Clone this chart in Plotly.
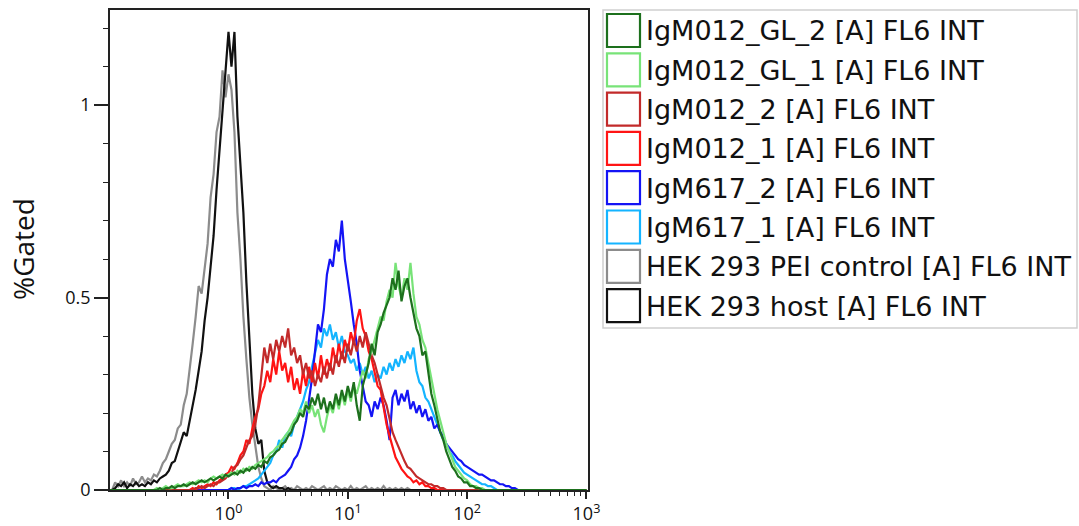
import numpy as np
import plotly.graph_objects as go

# ---- histogram channel grid (log10 of FL6 INT), 0.025 decade bins ----
bin_start_log = -1.0
bin_step_log = 0.025
n_bins = 161

# ---- %Gated values (each list starts at *_start) ----
host_start = -0.95
host = [0.005, 0.015, 0.01, 0.02, 0.005, 0.015, 0.01, 0.02, 0.01, 0.015, 0.01, 0.02, 0.015, 0.025,
        0.02, 0.03, 0.035, 0.04, 0.05, 0.07, 0.075, 0.10, 0.12, 0.15, 0.14, 0.18, 0.22, 0.26, 0.31,
        0.36, 0.44, 0.50, 0.58, 0.66, 0.78, 0.88, 0.98, 1.08, 1.19, 1.10, 1.19, 0.97, 0.84, 0.72,
        0.54, 0.40, 0.25, 0.16, 0.12, 0.13, 0.05, 0.02, 0.01, 0.005, 0.01, 0.005, 0.005, 0.0, 0.005]

pei_start = -0.95
pei = [0.02, 0.01, 0.025, 0.01, 0.02, 0.01, 0.03, 0.015, 0.02, 0.035, 0.02, 0.03, 0.025, 0.04,
       0.035, 0.05, 0.07, 0.08, 0.10, 0.12, 0.13, 0.16, 0.17, 0.22, 0.25, 0.31, 0.38, 0.45, 0.53,
       0.51, 0.58, 0.64, 0.76, 0.82, 0.93, 0.97, 1.09, 1.02, 1.08, 1.04, 0.93, 0.72, 0.60, 0.45,
       0.34, 0.24, 0.17, 0.11, 0.06, 0.03, 0.01,
       0.005, 0.0, 0.01, 0.005, 0.0, 0.005, 0.01, 0.0, 0.005, 0.0, 0.01, 0.005, 0.0, 0.005, 0.0,
       0.01, 0.005, 0.0, 0.005, 0.01, 0.0, 0.005, 0.0, 0.01, 0.005, 0.0, 0.005, 0.0, 0.01, 0.0,
       0.005, 0.0, 0.005, 0.01, 0.0, 0.005, 0.0, 0.005, 0.0, 0.01, 0.0, 0.005, 0.0, 0.005, 0.0,
       0.005, 0.0, 0.005]

igm617_1_start = 0.0
igm617_1 = [0.0, 0.005, 0.005, 0.0, 0.005, 0.01, 0.01, 0.015, 0.02, 0.025, 0.03, 0.04, 0.05,
            0.06, 0.07, 0.09, 0.10, 0.13, 0.11, 0.14, 0.15, 0.14, 0.17, 0.19, 0.21, 0.23, 0.26,
            0.28, 0.32, 0.36, 0.39, 0.37, 0.42, 0.40, 0.43, 0.39, 0.41, 0.37, 0.40, 0.36, 0.35,
            0.33, 0.34, 0.31, 0.33, 0.30, 0.32, 0.29, 0.31, 0.28, 0.30, 0.29, 0.32, 0.30, 0.33,
            0.31, 0.34, 0.32, 0.35, 0.33, 0.36, 0.34, 0.37, 0.31, 0.28, 0.27, 0.24, 0.23, 0.21,
            0.19, 0.17, 0.15, 0.13, 0.12, 0.10, 0.09, 0.075, 0.065, 0.055, 0.045, 0.04, 0.035,
            0.03, 0.025, 0.02, 0.015, 0.015, 0.01, 0.01, 0.005, 0.0]

igm617_2_start = 0.0
igm617_2 = [0.0, 0.005, 0.0, 0.005, 0.005, 0.01, 0.005, 0.01, 0.01, 0.015, 0.01, 0.02, 0.015,
            0.02, 0.02, 0.025, 0.02, 0.03, 0.035, 0.04, 0.05, 0.06, 0.08, 0.09, 0.11, 0.14, 0.18,
            0.23, 0.29, 0.36, 0.43, 0.41, 0.47, 0.56, 0.60, 0.58, 0.65, 0.62, 0.70, 0.60, 0.55,
            0.49, 0.43, 0.38, 0.31, 0.27, 0.23, 0.22, 0.19, 0.23, 0.21, 0.24, 0.22, 0.18, 0.13,
            0.24, 0.26, 0.22, 0.25, 0.23, 0.26, 0.21, 0.23, 0.20, 0.22, 0.19, 0.21, 0.18, 0.19,
            0.16, 0.17, 0.15, 0.14, 0.12, 0.11, 0.10, 0.09, 0.08, 0.075, 0.065, 0.06, 0.055, 0.05,
            0.045, 0.04, 0.04, 0.035, 0.03, 0.025, 0.025, 0.02, 0.015, 0.015, 0.01, 0.01, 0.005,
            0.005, 0.0]

igm012_1_start = -0.3
igm012_1 = [0.005, 0.0, 0.01, 0.005, 0.01, 0.015, 0.01, 0.02, 0.015, 0.025, 0.03, 0.04, 0.045,
            0.06, 0.055, 0.07, 0.09, 0.10, 0.13, 0.12, 0.16, 0.19, 0.21, 0.25, 0.27, 0.31, 0.28,
            0.34, 0.30, 0.36, 0.31, 0.33, 0.28, 0.32, 0.26, 0.29, 0.25, 0.31, 0.27, 0.32, 0.28,
            0.33, 0.29, 0.35, 0.30, 0.34, 0.31, 0.37, 0.33, 0.38, 0.34, 0.39, 0.36, 0.41, 0.38,
            0.44, 0.47, 0.42, 0.40, 0.36, 0.34, 0.30, 0.27, 0.26, 0.21, 0.17, 0.14, 0.11, 0.085,
            0.07, 0.055, 0.045, 0.035, 0.03, 0.02, 0.025, 0.015, 0.02, 0.01, 0.01, 0.005, 0.005,
            0.0]

igm012_2_start = -0.3
igm012_2 = [0.0, 0.005, 0.005, 0.01, 0.005, 0.01, 0.015, 0.01, 0.02, 0.02, 0.025, 0.03, 0.04,
            0.045, 0.06, 0.065, 0.08, 0.09, 0.11, 0.13, 0.14, 0.17, 0.22, 0.30, 0.37, 0.33, 0.38,
            0.34, 0.39, 0.36, 0.40, 0.37, 0.42, 0.35, 0.37, 0.33, 0.35, 0.30, 0.33, 0.29, 0.31,
            0.27, 0.30, 0.28, 0.32, 0.29, 0.33, 0.30, 0.35, 0.32, 0.36, 0.33, 0.38, 0.35, 0.39,
            0.36, 0.40, 0.37, 0.41, 0.38, 0.35, 0.33, 0.30, 0.27, 0.24, 0.22, 0.18, 0.15, 0.13,
            0.11, 0.09, 0.075, 0.06, 0.055, 0.045, 0.035, 0.03, 0.025, 0.02, 0.015, 0.015, 0.01,
            0.01, 0.005, 0.005, 0.0]

gl_1_start = -0.6
gl_1 = [0.005, 0.0, 0.005, 0.01, 0.005, 0.005, 0.01, 0.015, 0.01, 0.01, 0.015, 0.02, 0.015,
        0.02, 0.025, 0.02, 0.025, 0.02, 0.03, 0.035, 0.03, 0.035, 0.04, 0.035, 0.04, 0.045, 0.04,
        0.05, 0.045, 0.055, 0.05, 0.06, 0.055, 0.065, 0.07, 0.075, 0.08, 0.085, 0.095, 0.10, 0.11,
        0.115, 0.13, 0.14, 0.15, 0.165, 0.18, 0.19, 0.21, 0.20, 0.23, 0.20, 0.22, 0.19, 0.21,
        0.17, 0.15, 0.19, 0.22, 0.20, 0.24, 0.21, 0.25, 0.22, 0.26, 0.23, 0.27, 0.25, 0.28, 0.31,
        0.29, 0.34, 0.36, 0.39, 0.42, 0.45, 0.44, 0.49, 0.52, 0.50, 0.59, 0.53, 0.50, 0.55, 0.52,
        0.59, 0.51, 0.45, 0.43, 0.39, 0.37, 0.33, 0.28, 0.25, 0.21, 0.18, 0.15, 0.12, 0.10, 0.08,
        0.06, 0.05, 0.04, 0.03, 0.025, 0.015, 0.01, 0.01, 0.005, 0.005, 0.0]

gl_2_start = -0.6
gl_2 = [0.0, 0.005, 0.0, 0.005, 0.005, 0.01, 0.005, 0.01, 0.01, 0.015, 0.01, 0.015, 0.02, 0.015,
        0.02, 0.025, 0.02, 0.025, 0.03, 0.025, 0.03, 0.035, 0.03, 0.04, 0.035, 0.04, 0.045, 0.04,
        0.05, 0.045, 0.055, 0.05, 0.06, 0.055, 0.065, 0.06, 0.075, 0.07, 0.085, 0.09, 0.10, 0.105,
        0.12, 0.125, 0.14, 0.15, 0.17, 0.18, 0.20, 0.19, 0.22, 0.21, 0.24, 0.22, 0.25, 0.21, 0.24,
        0.20, 0.23, 0.21, 0.25, 0.22, 0.26, 0.23, 0.27, 0.24, 0.28, 0.22, 0.18, 0.27, 0.30, 0.33,
        0.38, 0.35, 0.41, 0.43, 0.46, 0.48, 0.50, 0.55, 0.52, 0.57, 0.49, 0.53, 0.55, 0.50, 0.46,
        0.42, 0.40, 0.35, 0.36, 0.30, 0.25, 0.22, 0.18, 0.15, 0.13, 0.10, 0.08, 0.06, 0.05, 0.035,
        0.03, 0.02, 0.02, 0.01, 0.01, 0.005, 0.005, 0.0]

sample_names = ["IgM012_GL_2 [A] FL6 INT", "IgM012_GL_1 [A] FL6 INT", "IgM012_2 [A] FL6 INT",
                "IgM012_1 [A] FL6 INT", "IgM617_2 [A] FL6 INT", "IgM617_1 [A] FL6 INT",
                "HEK 293 PEI control [A] FL6 INT", "HEK 293 host [A] FL6 INT"]
sample_colors = ["#1d701d", "#78e378", "#c22a2a", "#ff1414", "#1414f5", "#14b4ff",
                 "#8c8c8c", "#111111"]
sample_values = [(gl_2_start, gl_2), (gl_1_start, gl_1), (igm012_2_start, igm012_2),
                 (igm012_1_start, igm012_1), (igm617_2_start, igm617_2),
                 (igm617_1_start, igm617_1), (pei_start, pei), (host_start, host)]

x_tick_vals = [1, 10, 100, 1000]
x_tick_text = ["10<sup>0</sup>", "10<sup>1</sup>", "10<sup>2</sup>", "10<sup>3</sup>"]

# ---- build ----
channels = 10 ** (bin_start_log + bin_step_log * np.arange(n_bins))


def full_series(start, vals):
    out = np.zeros(n_bins)
    i0 = int(round((start - bin_start_log) / bin_step_log))
    out[i0:i0 + len(vals)] = vals
    return out


W, H = 1079, 526
L, R, T, B = 110, 588, 10, 490

fig = go.Figure()
draw_order = [6, 7, 5, 4, 3, 2, 1, 0]
for i in draw_order:
    start, vals = sample_values[i]
    fig.add_trace(go.Scatter(x=channels, y=full_series(start, vals), mode="lines",
                             name=sample_names[i], line=dict(color=sample_colors[i], width=2.2),
                             showlegend=False))

minor_x = [m * 10 ** e for e in range(-1, 3) for m in range(2, 10)]

fig.update_layout(
    width=W, height=H,
    margin=dict(l=L, r=W - R, t=T, b=H - B, autoexpand=False),
    paper_bgcolor="white", plot_bgcolor="white",
    showlegend=False,
    xaxis=dict(type="log", range=[-0.993, 3.013], tickmode="array", tickvals=x_tick_vals,
               ticktext=x_tick_text, ticks="outside", ticklen=7, tickwidth=1.5,
               tickcolor="#222", showgrid=False, zeroline=False, showline=True,
               linecolor="#222", linewidth=1.5, mirror=True, automargin=False,
               tickfont=dict(family="Open Sans", size=18, color="#111"),
               minor=dict(tickmode="array", tickvals=minor_x, ticks="outside", ticklen=4,
                          tickwidth=1.2, tickcolor="#222", showgrid=False)),
    yaxis=dict(range=[0, 1.247], tickmode="linear", tick0=0, dtick=0.5, ticks="outside",
               ticklen=14, tickwidth=1.5, tickcolor="#222", showgrid=False, zeroline=False,
               showline=True, linecolor="#222", linewidth=1.5, mirror=True, automargin=False,
               tickfont=dict(family="Open Sans", size=18, color="#111"),
               minor=dict(dtick=0.1, tick0=0, ticks="outside", ticklen=5, tickwidth=1.2,
                          tickcolor="#222", showgrid=False)),
)


def px(xp):
    return (xp - L) / (R - L)


def py(yp):
    return (B - yp) / (B - T)


shapes = [dict(type="rect", xref="paper", yref="paper", x0=px(603), x1=px(1077),
               y0=py(328), y1=py(10), line=dict(color="#cfcfcf", width=1.5),
               fillcolor="white", layer="below")]
annotations = [dict(text="%Gated", xref="paper", yref="paper", x=px(23), y=py(249),
                    xanchor="center", yanchor="middle", textangle=-90, showarrow=False,
                    font=dict(family="Open Sans", size=28, color="#111"))]
pitch = 39.3
for i, name in enumerate(sample_names):
    top = 14 + pitch * i
    shapes.append(dict(type="rect", xref="paper", yref="paper", x0=px(607), x1=px(640),
                       y0=py(top + 33), y1=py(top), line=dict(color=sample_colors[i], width=2.2),
                       fillcolor="white"))
    annotations.append(dict(text=name, xref="paper", yref="paper", x=px(644), y=py(top + 17),
                            xanchor="left", yanchor="middle", showarrow=False,
                            font=dict(family="DejaVu Sans", size=27, color="#111")))

fig.update_layout(shapes=shapes, annotations=annotations)
fig.write_html("out.html", config={"displayModeBar": False},
               post_script="document.body.style.margin='0';document.body.style.overflow='hidden';")
